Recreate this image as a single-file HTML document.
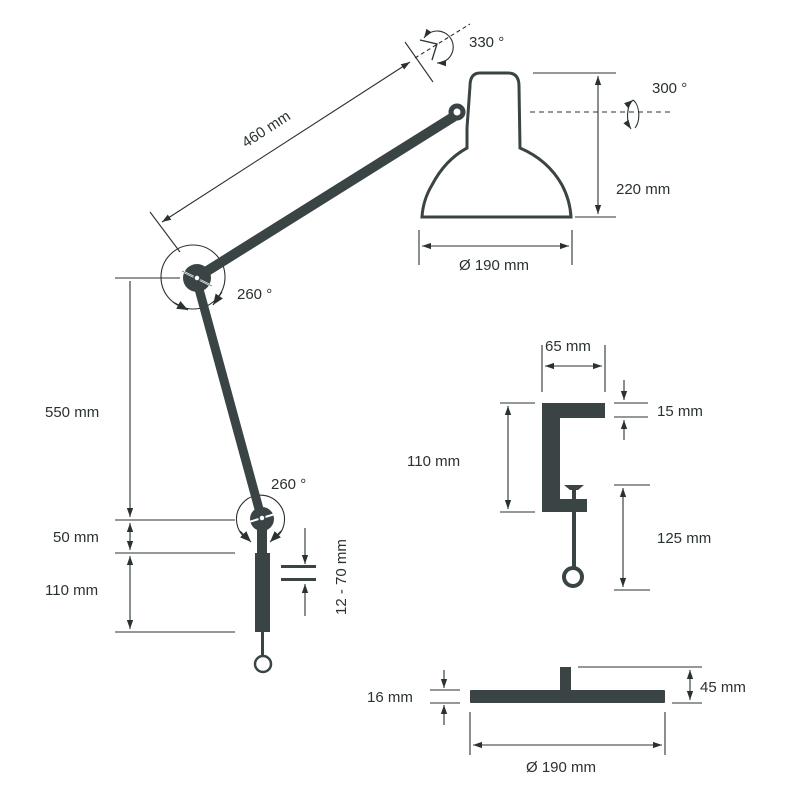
<!DOCTYPE html>
<html><head><meta charset="utf-8"><style>
html,body{margin:0;padding:0;background:#fff}
svg{display:block}
text{font-family:"Liberation Sans",sans-serif;font-size:15px;fill:#2a3132}
</style></head><body>
<svg width="800" height="800" viewBox="0 0 800 800" xmlns="http://www.w3.org/2000/svg">
<defs>
<marker id="a" viewBox="0 0 10 10" refX="10" refY="5" markerWidth="9" markerHeight="9" orient="auto-start-reverse" markerUnits="userSpaceOnUse"><path d="M0,1.5 L10,5 L0,8.5 Z" fill="#2a3132"/></marker>
<marker id="b" viewBox="0 0 10 10" refX="10" refY="5" markerWidth="11" markerHeight="11" orient="auto-start-reverse" markerUnits="userSpaceOnUse"><path d="M0,1 L10,5 L0,9 Z" fill="#2a3132"/></marker>
</defs>
<g stroke="#2a3132" stroke-width="1.1" fill="none">
<line x1="150" y1="212" x2="180" y2="252"/>
<line x1="405" y1="42" x2="433" y2="82"/>
<line x1="162" y1="222" x2="410" y2="62" marker-start="url(#a)" marker-end="url(#a)"/>
<line x1="415" y1="58" x2="470" y2="24" stroke-dasharray="4,3"/>
<path d="M420,40 L437,44 L432,60" stroke-width="1.3"/>
<path d="M424,38 A16,16 0 1 1 437,63" marker-start="url(#a)" marker-end="url(#a)"/>
<line x1="533" y1="73" x2="616" y2="73"/>
<line x1="575" y1="217" x2="616" y2="217"/>
<line x1="598" y1="76" x2="598" y2="214" marker-start="url(#a)" marker-end="url(#a)"/>
<line x1="530" y1="112" x2="672" y2="112" stroke-dasharray="5,4"/>
<path d="M633,100 A9,17 0 0 0 631,129" marker-start="url(#a)" marker-end="url(#a)"/>
<path d="M633,100 A9,16 0 0 1 635,128"/>
<line x1="419" y1="230" x2="419" y2="265"/>
<line x1="572" y1="230" x2="572" y2="265"/>
<line x1="422" y1="246" x2="569" y2="246" marker-start="url(#a)" marker-end="url(#a)"/>
<line x1="115" y1="278" x2="180" y2="278"/>
<line x1="115" y1="520" x2="235" y2="520"/>
<line x1="115" y1="553" x2="235" y2="553"/>
<line x1="115" y1="632" x2="235" y2="632"/>
<line x1="130" y1="281" x2="130" y2="517" marker-end="url(#a)"/>
<line x1="130" y1="523" x2="130" y2="550" marker-start="url(#a)" marker-end="url(#a)"/>
<line x1="130" y1="556" x2="130" y2="629" marker-start="url(#a)" marker-end="url(#a)"/>
<circle cx="193" cy="277" r="32"/>
<line x1="173" y1="302" x2="188" y2="310" marker-end="url(#b)"/>
<line x1="222" y1="292" x2="213" y2="305" marker-end="url(#b)"/>
<path d="M247,539 A24,24 0 1 1 274,539"/>
<line x1="240" y1="531" x2="251" y2="542" marker-end="url(#b)"/>
<line x1="281" y1="531" x2="270" y2="542" marker-end="url(#b)"/>
<line x1="305" y1="528" x2="305" y2="564" marker-end="url(#a)"/>
<line x1="305" y1="616" x2="305" y2="584" marker-end="url(#a)"/>
<line x1="542" y1="345" x2="542" y2="392"/>
<line x1="605" y1="345" x2="605" y2="392"/>
<line x1="545" y1="366" x2="602" y2="366" marker-start="url(#a)" marker-end="url(#a)"/>
<line x1="614" y1="403" x2="648" y2="403"/>
<line x1="614" y1="417" x2="648" y2="417"/>
<line x1="624" y1="380" x2="624" y2="400" marker-end="url(#a)"/>
<line x1="624" y1="440" x2="624" y2="420" marker-end="url(#a)"/>
<line x1="500" y1="403" x2="535" y2="403"/>
<line x1="500" y1="512" x2="535" y2="512"/>
<line x1="508" y1="406" x2="508" y2="509" marker-start="url(#a)" marker-end="url(#a)"/>
<line x1="614" y1="485" x2="650" y2="485"/>
<line x1="614" y1="590" x2="650" y2="590"/>
<line x1="623" y1="488" x2="623" y2="587" marker-start="url(#a)" marker-end="url(#a)"/>
<line x1="578" y1="667" x2="702" y2="667"/>
<line x1="672" y1="703" x2="702" y2="703"/>
<line x1="690" y1="670" x2="690" y2="700" marker-start="url(#a)" marker-end="url(#a)"/>
<line x1="430" y1="690" x2="460" y2="690"/>
<line x1="430" y1="703" x2="460" y2="703"/>
<line x1="444" y1="670" x2="444" y2="688" marker-end="url(#a)"/>
<line x1="444" y1="725" x2="444" y2="705" marker-end="url(#a)"/>
<line x1="470" y1="712" x2="470" y2="755"/>
<line x1="665" y1="712" x2="665" y2="755"/>
<line x1="473" y1="745" x2="662" y2="745" marker-start="url(#a)" marker-end="url(#a)"/>
</g>
<g fill="#3a4445" stroke="none">
<line x1="196" y1="278" x2="458" y2="114" stroke="#3a4445" stroke-width="10"/>
<line x1="196" y1="278" x2="262" y2="520" stroke="#3a4445" stroke-width="9"/>
<circle cx="197" cy="278" r="14"/>
<circle cx="262" cy="519" r="12"/>
<rect x="257" y="528" width="10" height="26"/>
<rect x="255" y="553" width="15" height="79"/>
<rect x="261" y="630" width="3" height="26"/>
<rect x="281" y="565" width="35" height="3"/>
<rect x="281" y="578" width="35" height="3"/>
<rect x="542" y="403" width="63" height="15"/>
<rect x="542" y="403" width="18" height="109"/>
<rect x="542" y="499" width="45" height="13"/>
<rect x="572" y="487" width="4" height="80"/>
<path d="M564,485 L584,485 L578,490 L570,490 Z"/>
<rect x="470" y="690" width="195" height="13" rx="1"/>
<rect x="560" y="667" width="11" height="24"/>
</g>
<g stroke="#fff" stroke-width="2" fill="none">
<line x1="182" y1="271" x2="212" y2="286"/>
<line x1="249" y1="522" x2="275" y2="514"/>
</g>
<g stroke="#3a4445" fill="none">
<line x1="182" y1="271" x2="212" y2="286" stroke-width="0.6"/>
<circle cx="197" cy="278" r="3" fill="#fff" stroke-width="1.5"/>
<circle cx="262" cy="518" r="3" fill="#fff" stroke-width="1.5"/>
<circle cx="263" cy="664" r="8" fill="#fff" stroke-width="2.5"/>
<circle cx="573" cy="577" r="9" fill="#fff" stroke-width="4"/>
<path d="M470,86 Q470,73 480,73 L508,73 Q519,73 519,86 L520,148 Q548,160 562,185 Q570,200 571,217 L422,217 Q423,200 432,185 Q445,160 467,148 L467,128 L469,100 Z" fill="#fff" stroke-width="3"/>
<circle cx="457" cy="112" r="6" fill="#fff" stroke-width="5"/>
</g>
<text x="237" y="299">260 °</text>
<text x="271" y="489">260 °</text>
<text x="469" y="47">330 °</text>
<text x="652" y="93">300 °</text>
<text x="616" y="194">220 mm</text>
<text x="459" y="270">Ø 190 mm</text>
<text transform="translate(246,148) rotate(-33)">460 mm</text>
<text x="45" y="417">550 mm</text>
<text x="53" y="542">50 mm</text>
<text x="45" y="595">110 mm</text>
<text transform="translate(346,615) rotate(-90)">12 - 70 mm</text>
<text x="545" y="351">65 mm</text>
<text x="657" y="416">15 mm</text>
<text x="407" y="466">110 mm</text>
<text x="657" y="543">125 mm</text>
<text x="700" y="692">45 mm</text>
<text x="367" y="702">16 mm</text>
<text x="526" y="772">Ø 190 mm</text>
</svg>
</body></html>
